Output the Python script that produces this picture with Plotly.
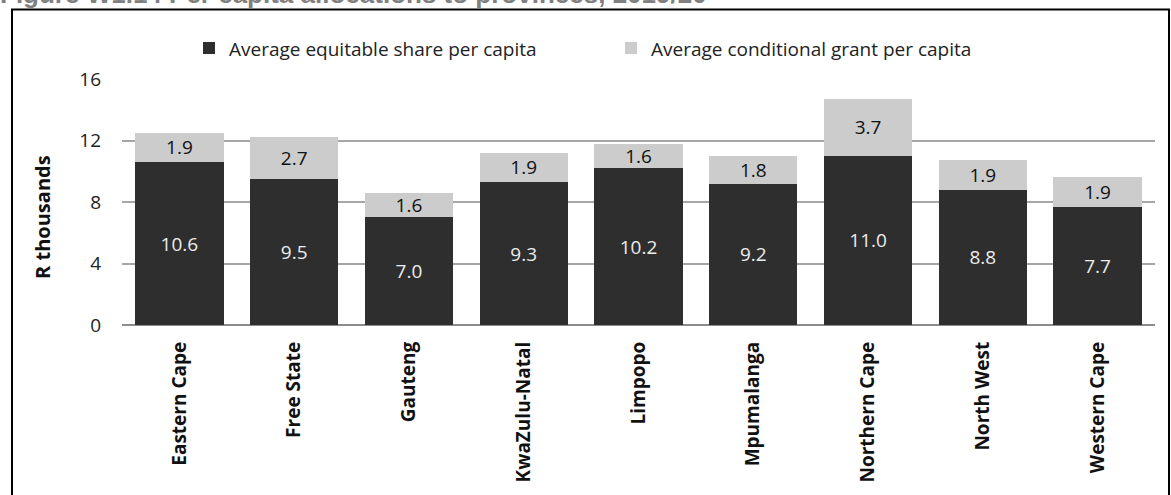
import plotly.graph_objects as go

provinces = ["Eastern Cape", "Free State", "Gauteng", "KwaZulu-Natal", "Limpopo",
             "Mpumalanga", "Northern Cape", "North West", "Western Cape"]
equitable = [10.6, 9.5, 7.0, 9.3, 10.2, 9.2, 11.0, 8.8, 7.7]
conditional = [1.9, 2.7, 1.6, 1.9, 1.6, 1.8, 3.7, 1.9, 1.9]
y_ticks = [0, 4, 8, 12, 16]

FONT = "Open Sans"

fig = go.Figure()
fig.add_trace(go.Bar(
    x=provinces, y=equitable, name="Average equitable share per capita",
    marker=dict(color="#2e2e2e", line=dict(width=0)),
    text=[f"{v:.1f}" for v in equitable], textposition="inside",
    insidetextanchor="middle", textangle=0, constraintext="none",
    textfont=dict(family=FONT, size=19, color="#ececec"),
))
fig.add_trace(go.Bar(
    x=provinces, y=conditional, name="Average conditional grant per capita",
    marker=dict(color="#cccccc", line=dict(width=0)),
    text=[f"{v:.1f}" for v in conditional], textposition="inside",
    insidetextanchor="middle", textangle=0, constraintext="none",
    textfont=dict(family=FONT, size=19, color="#111111"),
))

W, H = 1171, 495
L, R, T, B = 122, 16, 79, 168
pw, ph = W - L - R, H - T - B

def px(p):
    return (p - L) / pw

def py(p):
    return (H - B - p) / ph

fig.update_layout(
    width=W, height=H,
    margin=dict(l=L, r=R, t=T, b=B),
    barmode="stack", bargap=0.23,
    plot_bgcolor="white", paper_bgcolor="white",
    font=dict(family=FONT, size=19, color="#222222"),
    showlegend=True,
    legend=dict(orientation="h", x=px(189), y=py(48), xanchor="left", yanchor="middle",
                font=dict(family=FONT, size=19, color="#222222"),
                entrywidth=377, entrywidthmode="pixels", traceorder="normal",
                bgcolor="rgba(0,0,0,0)"),
    xaxis=dict(range=[-0.5, 8.5], tickangle=-90, showgrid=False,
               tickfont=dict(family=FONT, size=19, color="#111111", weight="bold"),
               showline=False, ticks="", ticklabelstandoff=12),
    yaxis=dict(range=[0, 16], tickvals=y_ticks, showgrid=True, gridcolor="#a6a6a6",
               gridwidth=2, zeroline=True, zerolinecolor="#8c8c8c", zerolinewidth=2,
               tickfont=dict(family=FONT, size=19, color="#222222"),
               showline=False, ticks="", ticklabelstandoff=20),
)

fig.add_annotation(text="<b>R thousands</b>", textangle=-90, showarrow=False,
                   xref="paper", yref="paper", x=px(43), y=py(218),
                   xanchor="center", yanchor="middle",
                   font=dict(family=FONT, size=20, color="#111111"))

fig.add_annotation(text="<b>Figure W1.14 Per capita allocations to provinces, 2019/20</b>",
                   showarrow=False, xref="paper", yref="paper",
                   x=px(-2), y=py(10), xanchor="left", yanchor="bottom",
                   font=dict(family="Liberation Sans", size=26, color="#808080"))

fig.add_shape(type="rect", xref="paper", yref="paper",
              x0=px(12), x1=px(1169), y0=py(600), y1=py(9),
              line=dict(color="#000000", width=2), fillcolor="rgba(0,0,0,0)", layer="below")

fig.write_html("out.html", config={"displayModeBar": False},
               post_script="document.body.style.margin='0';document.body.style.overflow='hidden';")
